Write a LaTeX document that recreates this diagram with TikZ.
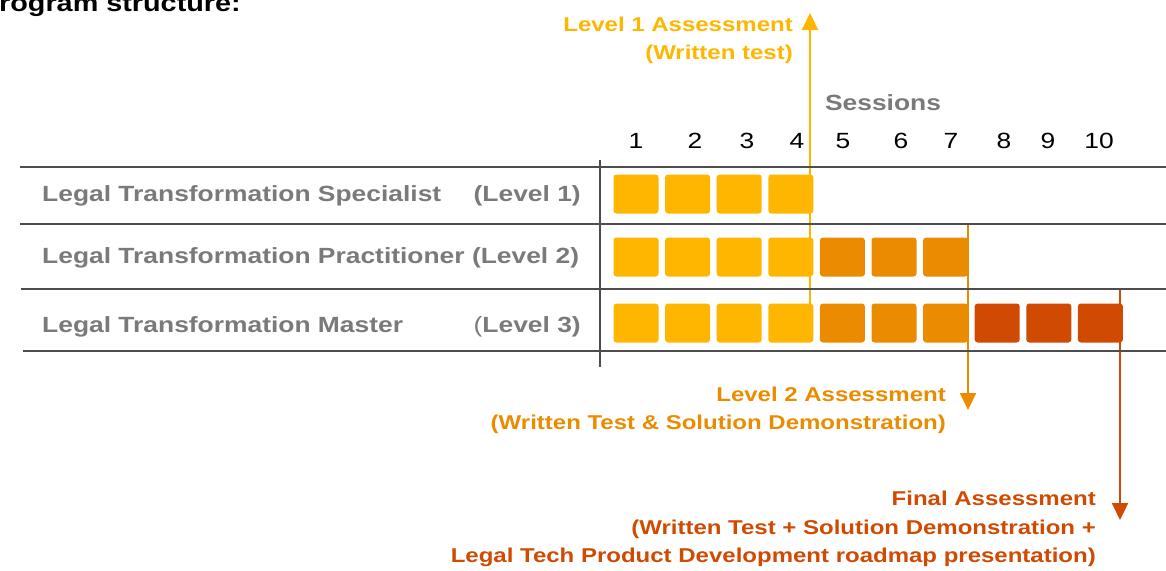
\documentclass[tikz,border=0pt]{standalone}
\usepackage{fontspec}
\setmainfont[FakeStretch=1.2]{Liberation Sans}
\usepackage{xcolor}
\usetikzlibrary{positioning}
\usetikzlibrary{calc}
\usetikzlibrary{arrows.meta}

\definecolor{lvlone}{HTML}{FFB600}
\definecolor{lvltwo}{HTML}{EB8C00}
\definecolor{lvlthree}{HTML}{D04A02}
\definecolor{rowgray}{HTML}{7A7A7A}
\definecolor{gridgray}{HTML}{4D4D4D}

\begin{document}
\begin{tikzpicture}[x=1pt, y=-1pt,
  rowtext/.style={font=\fontsize{22}{26}\selectfont\bfseries, text=rowgray, inner sep=0pt},
  numtext/.style={font=\fontsize{22}{26}\selectfont, inner sep=0pt, anchor=base},
  asstext/.style={font=\fontsize{20}{24}\selectfont\bfseries, inner sep=0pt, anchor=base east},
  session/.style={rounded corners=3pt, minimum width=45pt, minimum height=39pt, inner sep=0pt},
  gridline/.style={gridgray, line width=2.6pt},
  assarrow/.style={line width=2.2pt, -{Triangle[width=16pt,length=17pt]}}]
\useasboundingbox (0,0) rectangle (1166,570);

\node[anchor=base east, inner sep=0pt, font=\fontsize{24}{28}\selectfont\bfseries] (title) at (241,12) {Program structure:};

% row labels
\node[rowtext, anchor=base west] (spec) at (42,201) {Legal Transformation Specialist};
\node[rowtext, anchor=base east] (spec lvl) at (581,201) {(Level 1)};
\node[rowtext, anchor=base west] (prac) at (42,263) {Legal Transformation Practitioner (Level 2)};
\node[rowtext, anchor=base west] (mast) at (42,332) {Legal Transformation Master};
\node[rowtext, anchor=base east] (mast lvl) at (581,332) {{\mdseries(}Level 3)};

% sessions header
\node[rowtext, anchor=base] (sessions) at (883,110) {Sessions};
\foreach \n/\xn in {1/636,2/695,3/747,4/797,5/843,6/901,7/951,8/1004,9/1048,10/1099}
  \node[numtext] (num\n) at (\xn,148) {\n};

% assessment arrows
\coordinate (l1foot) at (810,320);
\coordinate (l1tip) at (810,13);
\coordinate (l2foot) at (968,224);
\coordinate (l2tip) at (968,410);
\coordinate (l3foot) at (1120,289);
\coordinate (l3tip) at (1120,520);
\draw[assarrow, lvlone] (l1foot) -- (l1tip);
\draw[assarrow, lvltwo] (l2foot) -- (l2tip);
\draw[assarrow, lvlthree] (l3foot) -- (l3tip);

% grid
\coordinate (g0) at (20,167);
\coordinate (g1) at (20,224);
\coordinate (g2) at (21,289);
\coordinate (g3) at (23,351);
\foreach \g in {0,...,3}
  \draw[gridline] (g\g) -- (g\g -| 1166,0);
\coordinate (vtop) at (600,160);
\coordinate (vbot) at (600,367);
\draw[gridline] (vtop) -- (vbot);

% session blocks
\foreach \r/\y/\last in {1/194/4, 2/257/7, 3/323/10}
  \foreach \c/\col in {1/lvlone,2/lvlone,3/lvlone,4/lvlone,5/lvltwo,6/lvltwo,7/lvltwo,8/lvlthree,9/lvlthree,10/lvlthree}
  {
    \ifnum\c>\last\relax\else
      \node[session, fill=\col] (s\r-\c) at ({636+51.6*(\c-1)},\y) {};
    \fi
  };

% assessment texts
\node[asstext, text=lvlone] (l1a) at (793,31) {Level 1 Assessment};
\node[asstext, text=lvlone] (l1b) at (793,59) {(Written test)};
\node[asstext, text=lvltwo] (l2a) at (946,401) {Level 2 Assessment};
\node[asstext, text=lvltwo] (l2b) at (946,429) {(Written Test \& Solution Demonstration)};
\node[asstext, text=lvlthree] (l3a) at (1096,505) {Final Assessment};
\node[asstext, text=lvlthree] (l3b) at (1096,534) {(Written Test + Solution Demonstration +};
\node[asstext, text=lvlthree] (l3c) at (1096,562) {Legal Tech Product Development roadmap presentation)};
\end{tikzpicture}
\end{document}
